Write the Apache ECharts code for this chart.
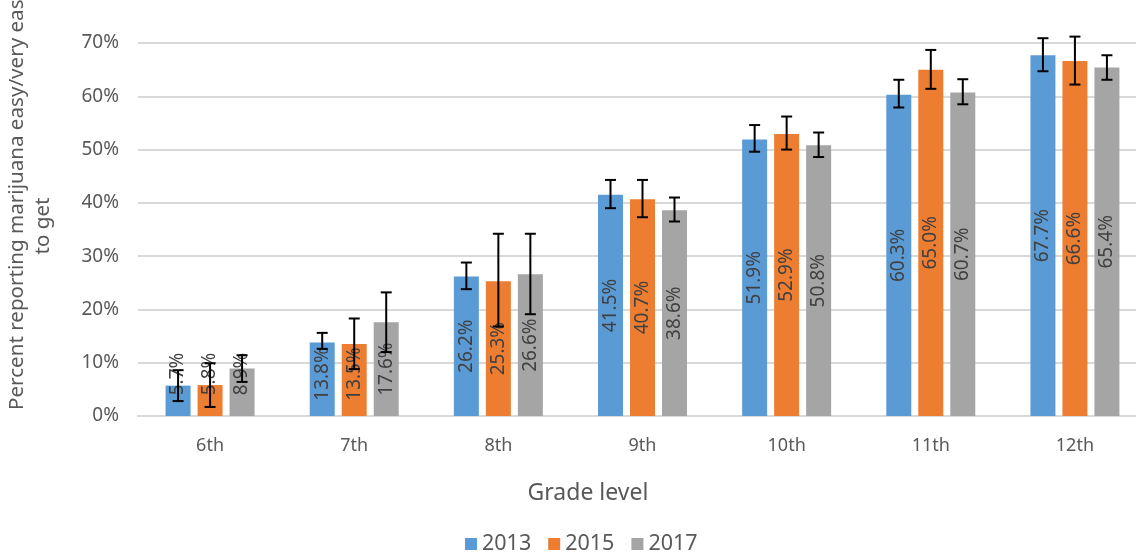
<!DOCTYPE html>
<html><head><meta charset="utf-8">
<script src="https://cdn.jsdelivr.net/npm/echarts@6/dist/echarts.min.js"></script>
<style>html,body{margin:0;padding:0;background:#fff}#c{width:1136px;height:552px}</style>
</head><body><div id="c"></div>
<script>
// ---- data ----
const grades = ['6th', '7th', '8th', '9th', '10th', '11th', '12th'];
const years = ['2013', '2015', '2017'];
const v2013 = [5.7, 13.8, 26.2, 41.5, 51.9, 60.3, 67.7];
const v2015 = [5.8, 13.5, 25.3, 40.7, 52.9, 65.0, 66.6];
const v2017 = [8.9, 17.6, 26.6, 38.6, 50.8, 60.7, 65.4];
const lo2013 = [2.8, 12.6, 23.8, 39.0, 49.6, 57.9, 64.7];
const hi2013 = [8.6, 15.6, 28.8, 44.3, 54.6, 63.1, 70.9];
const lo2015 = [1.7, 8.8, 16.8, 37.3, 50.0, 61.4, 62.2];
const hi2015 = [9.9, 18.3, 34.2, 44.3, 56.2, 68.7, 71.2];
const lo2017 = [6.4, 12.0, 19.1, 36.5, 48.6, 58.5, 63.1];
const hi2017 = [11.4, 23.2, 34.2, 41.0, 53.2, 63.2, 67.7];
const yTickValues = [0, 10, 20, 30, 40, 50, 60, 70];
const yTitle1 = 'Percent reporting marijuana easy/very easy';
const yTitle2 = 'to get';
const xTitle = 'Grade level';

// ---- style ----
const colors = ['#5b9bd5', '#ed7d31', '#a5a5a5'];
const FONT = 'Noto Sans';
const BAR_W = 25, BAR_GAP_PX = 7, CAP = 5.5;
const LABEL_MIN_CENTER = 42; // px above base (label kept inside plot)

const values = [v2013, v2015, v2017];
const lows = [lo2013, lo2015, lo2017];
const highs = [hi2013, hi2015, hi2017];

const chart = echarts.init(document.getElementById('c'), null, {renderer: 'canvas'});

function barSeries(i) {
  return {
    type: 'bar', name: years[i], barWidth: BAR_W, barGap: (BAR_GAP_PX / BAR_W * 100) + '%',
    itemStyle: {color: colors[i]}, z: 2, data: values[i]
  };
}
function labelSeries(i) {
  return {
    type: 'custom', name: years[i], z: 3, silent: true,
    renderItem(params, api) {
      const off = (i - 1) * (BAR_W + BAR_GAP_PX);
      const x = api.coord([api.value(0), 0])[0] + off;
      const yb = api.coord([api.value(0), 0])[1];
      const yt = api.coord([api.value(0), api.value(1)])[1];
      const h = yb - yt;
      const c = Math.max(h / 2, LABEL_MIN_CENTER);
      return {type: 'text', x: x, y: yb - c, rotation: Math.PI / 2,
        style: {text: api.value(1).toFixed(1) + '%', fill: '#404040',
          font: '19px "' + FONT + '"', textAlign: 'center', textVerticalAlign: 'middle'}};
    },
    encode: {x: 0, y: 1},
    data: grades.map((g, k) => [k, values[i][k]])
  };
}
function errSeries(i) {
  return {
    type: 'custom', name: years[i], z: 4, silent: true,
    renderItem(params, api) {
      const off = (i - 1) * (BAR_W + BAR_GAP_PX);
      const x = api.coord([api.value(0), 0])[0] + off;
      const yl = api.coord([api.value(0), api.value(1)])[1];
      const yh = api.coord([api.value(0), api.value(2)])[1];
      const st = {stroke: '#000', lineWidth: 2};
      return {type: 'group', children: [
        {type: 'line', shape: {x1: x, y1: yl, x2: x, y2: yh}, style: st},
        {type: 'line', shape: {x1: x - CAP, y1: yh, x2: x + CAP, y2: yh}, style: st},
        {type: 'line', shape: {x1: x - CAP, y1: yl, x2: x + CAP, y2: yl}, style: st}
      ]};
    },
    encode: {x: 0, y: [1, 2]},
    data: grades.map((g, k) => [k, lows[i][k], highs[i][k]])
  };
}

chart.setOption({
  animation: false,
  textStyle: {fontFamily: FONT},
  grid: {left: 138, top: 43, height: 373, width: 1009, containLabel: false, outerBoundsMode: 'none'},
  legend: {
    data: years, top: 528, left: 460, itemWidth: 12, itemHeight: 12, itemGap: 17,
    icon: 'rect', textStyle: {fontFamily: FONT, fontSize: 21.5, color: '#595959'}
  },
  xAxis: {
    type: 'category', data: grades,
    axisLine: {lineStyle: {color: '#d9d9d9', width: 2}}, axisTick: {show: false},
    axisLabel: {color: '#595959', fontSize: 18, margin: 21, fontFamily: FONT}
  },
  yAxis: {
    type: 'value', min: 0, max: yTickValues[yTickValues.length - 1], interval: 10,
    axisLine: {show: false}, axisTick: {show: false},
    splitLine: {lineStyle: {color: '#d9d9d9', width: 2}},
    axisLabel: {color: '#595959', fontSize: 19, margin: 19, fontFamily: FONT, formatter: '{value}%'}
  },
  graphic: [
    {type: 'text', x: 17, y: 410, rotation: Math.PI / 2,
      style: {text: yTitle1, fill: '#595959', font: '20.6px "' + FONT + '"', textAlign: 'left', textVerticalAlign: 'middle'}},
    {type: 'text', x: 43, y: 226, rotation: Math.PI / 2,
      style: {text: yTitle2, fill: '#595959', font: '20.6px "' + FONT + '"', textAlign: 'center', textVerticalAlign: 'middle'}},
    {type: 'text', x: 588, y: 493,
      style: {text: xTitle, fill: '#595959', font: '23px "' + FONT + '"', textAlign: 'center', textVerticalAlign: 'middle'}}
  ],
  series: [0, 1, 2].map(barSeries).concat([0, 1, 2].map(labelSeries)).concat([0, 1, 2].map(errSeries))
});
</script>
</body></html>
